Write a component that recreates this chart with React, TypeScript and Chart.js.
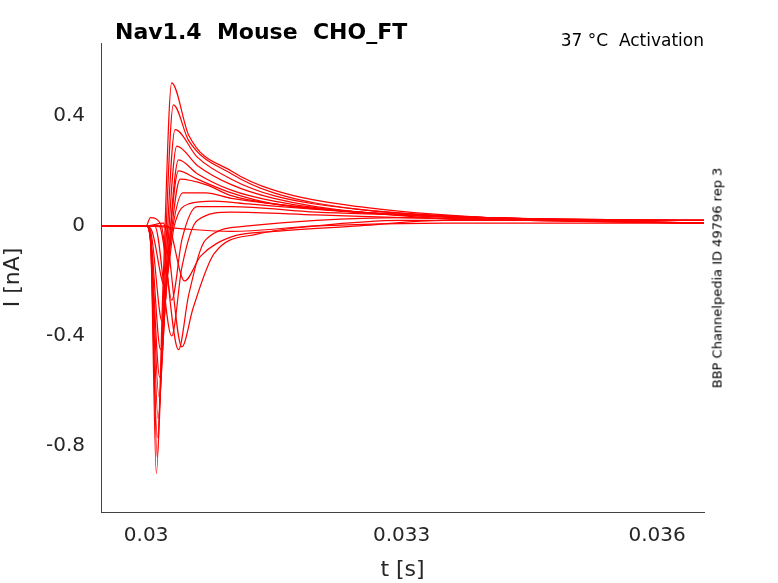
import { useEffect, useRef } from "react";
import Chart from "chart.js/auto";

// traces: [time in ms after 0.030 s, current in nA]
const traces: number[][][] = [
  [[-0.53, 0], [0, 0], [0.05, -0.05], [0.12, -0.9], [0.2, -0.2], [0.3, 0.52], [0.5, 0.33], [1.0, 0.2], [1.5, 0.13], [2.5, 0.07], [4, 0.03], [6.55, 0.01]],
  [[-0.53, 0], [0, 0], [0.05, -0.05], [0.13, -0.84], [0.21, -0.2], [0.32, 0.44], [0.5, 0.31], [1.0, 0.19], [1.5, 0.12], [2.5, 0.06], [4, 0.03], [6.55, 0.02]],
  [[-0.53, 0], [0, 0], [0.05, -0.05], [0.13, -0.77], [0.22, -0.2], [0.34, 0.35], [0.6, 0.25], [1.0, 0.17], [1.5, 0.11], [2.5, 0.06], [4, 0.03], [6.55, 0.01]],
  [[-0.53, 0], [0, 0], [0.05, -0.04], [0.14, -0.7], [0.23, -0.2], [0.36, 0.29], [0.6, 0.22], [1.0, 0.15], [1.5, 0.1], [2.5, 0.05], [4, 0.03], [6.55, 0.02]],
  [[-0.53, 0], [0, 0], [0.05, -0.04], [0.15, -0.62], [0.24, -0.2], [0.38, 0.24], [0.6, 0.19], [1.0, 0.13], [1.5, 0.09], [2.5, 0.05], [4, 0.03], [6.55, 0.01]],
  [[-0.53, 0], [0, 0], [0.05, -0.04], [0.16, -0.55], [0.25, -0.15], [0.38, 0.2], [0.6, 0.17], [1.0, 0.12], [1.5, 0.08], [2.5, 0.05], [4, 0.02], [6.55, 0.02]],
  [[-0.53, 0], [0, 0], [0.05, -0.03], [0.17, -0.45], [0.27, -0.1], [0.4, 0.17], [0.7, 0.15], [1.0, 0.11], [1.5, 0.08], [2.5, 0.05], [4, 0.03], [6.55, 0.01]],
  [[-0.53, 0], [0, 0], [0.06, -0.03], [0.19, -0.35], [0.29, -0.05], [0.43, 0.12], [0.7, 0.12], [1.0, 0.1], [1.5, 0.08], [2.5, 0.05], [4, 0.03], [6.55, 0.02]],
  [[-0.53, 0], [0, 0], [0.07, -0.02], [0.22, -0.22], [0.33, 0.0], [0.5, 0.08], [0.8, 0.09], [1.2, 0.08], [2.0, 0.06], [3, 0.04], [4.5, 0.02], [6.55, 0.01]],
  [[-0.53, 0], [0, 0], [0.05, 0.03], [0.18, 0.0], [0.3, -0.27], [0.42, -0.05], [0.6, 0.07], [1.0, 0.07], [2.0, 0.05], [3, 0.04], [4.5, 0.02], [6.55, 0.02]],
  [[-0.53, 0], [0, 0], [0.1, 0.0], [0.3, -0.4], [0.42, -0.15], [0.6, 0.02], [1.0, 0.05], [2.0, 0.04], [3, 0.03], [4.5, 0.02], [6.55, 0.01]],
  [[-0.53, 0], [0, 0], [0.15, 0.0], [0.38, -0.45], [0.5, -0.25], [0.7, -0.05], [1.2, 0.0], [2.0, 0.02], [3, 0.03], [4.5, 0.02], [6.55, 0.02]],
  [[-0.53, 0], [0, 0], [0.2, 0.01], [0.42, -0.44], [0.55, -0.3], [0.8, -0.1], [1.3, -0.03], [2.0, 0.0], [3, 0.02], [4.5, 0.02], [6.55, 0.01]],
  [[-0.53, 0], [0, 0], [0.25, 0.0], [0.45, -0.2], [0.64, -0.11], [1.0, -0.04], [1.5, -0.02], [2.5, 0.0], [3.5, 0.02], [5, 0.02], [6.55, 0.02]],
  [[-0.53, 0], [0, 0], [0.4, -0.01], [1.0, -0.02], [2.0, 0.0], [3.5, 0.01], [6.55, 0.01]],
];
const xTicks = [0.03, 0.033, 0.036];
const yTicks = [-0.8, -0.4, 0, 0.4];

const font = "DejaVu Sans";

export default function App() {
  const ref = useRef<HTMLCanvasElement>(null);

  useEffect(() => {
    document.body.style.margin = "0";
    if (!ref.current) return;
    const chart = new Chart(ref.current, {
      type: "line",
      data: {
        datasets: traces.map((tr) => ({
          data: tr.map(([t, v]) => ({ x: 0.03 + t / 1000, y: v })),
          borderColor: "#ff0000",
          borderWidth: 1.2,
          pointRadius: 0,
          cubicInterpolationMode: "monotone" as const,
        })),
      },
      options: {
        animation: false,
        responsive: false,
        layout: { padding: { top: 43, right: 74, left: 0, bottom: 0 } },
        plugins: { legend: { display: false }, tooltip: { enabled: false } },
        scales: {
          x: {
            type: "linear",
            min: 0.02947,
            max: 0.03655,
            afterBuildTicks: (s: any) => { s.ticks = xTicks.map((v) => ({ value: v })); },
            afterFit: (s: any) => { s.height = 71; },
            grid: { display: false, drawTicks: false },
            border: { color: "#444" },
            ticks: { color: "#262626", font: { family: font, size: 20 }, padding: 12, callback: (v: any) => String(Number(v)) },
            title: { display: true, text: "t [s]", color: "#262626", font: { family: font, size: 22 }, padding: { top: 4, bottom: 0 } },
          },
          y: {
            type: "linear",
            min: -1.04,
            max: 0.665,
            afterBuildTicks: (s: any) => { s.ticks = yTicks.map((v) => ({ value: v })); },
            afterFit: (s: any) => { s.width = 101; },
            grid: { display: false, drawTicks: false },
            border: { color: "#444" },
            ticks: { color: "#262626", font: { family: font, size: 20 }, padding: 16, callback: (v: any) => String(Number(v)) },
            title: { display: true, text: "I [nA]", color: "#262626", font: { family: font, size: 22 }, padding: { top: 0, bottom: 4 } },
          },
        },
      },
    });
    return () => chart.destroy();
  }, []);

  return (
    <div style={{ position: "relative", width: 778, height: 583, background: "#fff", fontFamily: font, color: "#000" }}>
      <canvas ref={ref} width={778} height={583} style={{ display: "block" }} />
      <div style={{ position: "absolute", left: 115, top: 19, fontSize: 22, fontWeight: "bold" }}>Nav1.4&nbsp; Mouse&nbsp; CHO_FT</div>
      <div style={{ position: "absolute", right: 74, top: 30, fontSize: 17 }}>37 °C&nbsp; Activation</div>
      <div style={{ position: "absolute", left: 717, top: 278, fontSize: 13, transform: "translate(-50%, -50%) rotate(-90deg)", whiteSpace: "nowrap" }}>
        BBP Channelpedia ID 49796 rep 3
      </div>
    </div>
  );
}
